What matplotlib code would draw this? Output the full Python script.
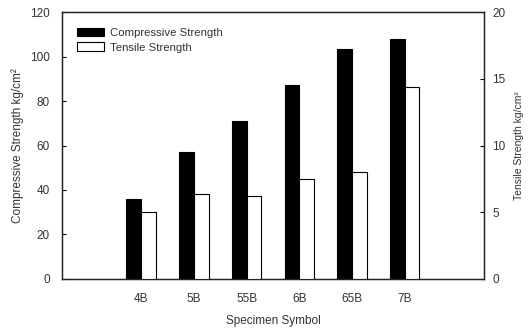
import matplotlib
matplotlib.use("Agg")
import matplotlib.pyplot as plt
import numpy as np
from matplotlib import font_manager

names = {f.name for f in font_manager.fontManager.ttflist}
fam = "Liberation Sans Narrow" if "Liberation Sans Narrow" in names else "Liberation Sans"
plt.rcParams['font.family'] = [fam, 'DejaVu Sans']

categories = ["4B", "5B", "55B", "6B", "65B", "7B"]
compressive = [36, 57, 71, 87, 103.5, 108]
tensile = [5.0, 6.35, 6.2, 7.5, 8.05, 14.35]

text_color = "#333333"
fig = plt.figure(figsize=(5.31, 3.29), dpi=100)
ax = fig.add_axes([0.117, 0.152, 0.794, 0.8115])
ax2 = ax.twinx()

x = np.arange(1, len(categories) + 1)
w = 0.28
ax.bar(x - w / 2, compressive, w, color="black", edgecolor="black", linewidth=0.8,
       label="Compressive Strength", zorder=3)
ax2.bar(x + w / 2, tensile, w, color="white", edgecolor="black", linewidth=0.8,
        label="Tensile Strength", zorder=3)

ax.set_xlim(-0.5, len(categories) + 1.5)
ax.set_ylim(0, 120)
ax2.set_ylim(0, 20)
ax.set_yticks(np.arange(0, 121, 20))
ax2.set_yticks(np.arange(0, 21, 5))
ax.set_xticks(x)
ax.set_xticklabels(categories)

for a in (ax, ax2):
    for s in a.spines.values():
        s.set_linewidth(0.9)
        s.set_color("#222222")
ax.tick_params(axis="y", direction="in", length=3, width=0.8, labelsize=8.5,
               labelcolor=text_color, pad=9)
ax2.tick_params(axis="y", direction="in", length=3, width=0.8, labelsize=8.5,
                labelcolor=text_color, pad=6)
ax.tick_params(axis="x", length=0, labelsize=8.5, labelcolor=text_color, pad=10)

ax.set_xlabel("Specimen Symbol", fontsize=8.5, color=text_color, labelpad=7)
ax.set_ylabel("Compressive Strength kg/cm²", fontsize=8.5, color=text_color, labelpad=4)
ax2.set_ylabel("Tensile Strength kg/cm²", fontsize=7.5, color=text_color, labelpad=6)

h1, l1 = ax.get_legend_handles_labels()
h2, l2 = ax2.get_legend_handles_labels()
leg = ax2.legend(h1 + h2, l1 + l2, loc="upper left", bbox_to_anchor=(0.01, 0.98),
                 frameon=False, fontsize=8.2, handlelength=2.4, handleheight=0.8,
                 handletextpad=0.5, labelspacing=0.4)
for t in leg.get_texts():
    t.set_color(text_color)

fig.savefig("out.png", dpi=100)
